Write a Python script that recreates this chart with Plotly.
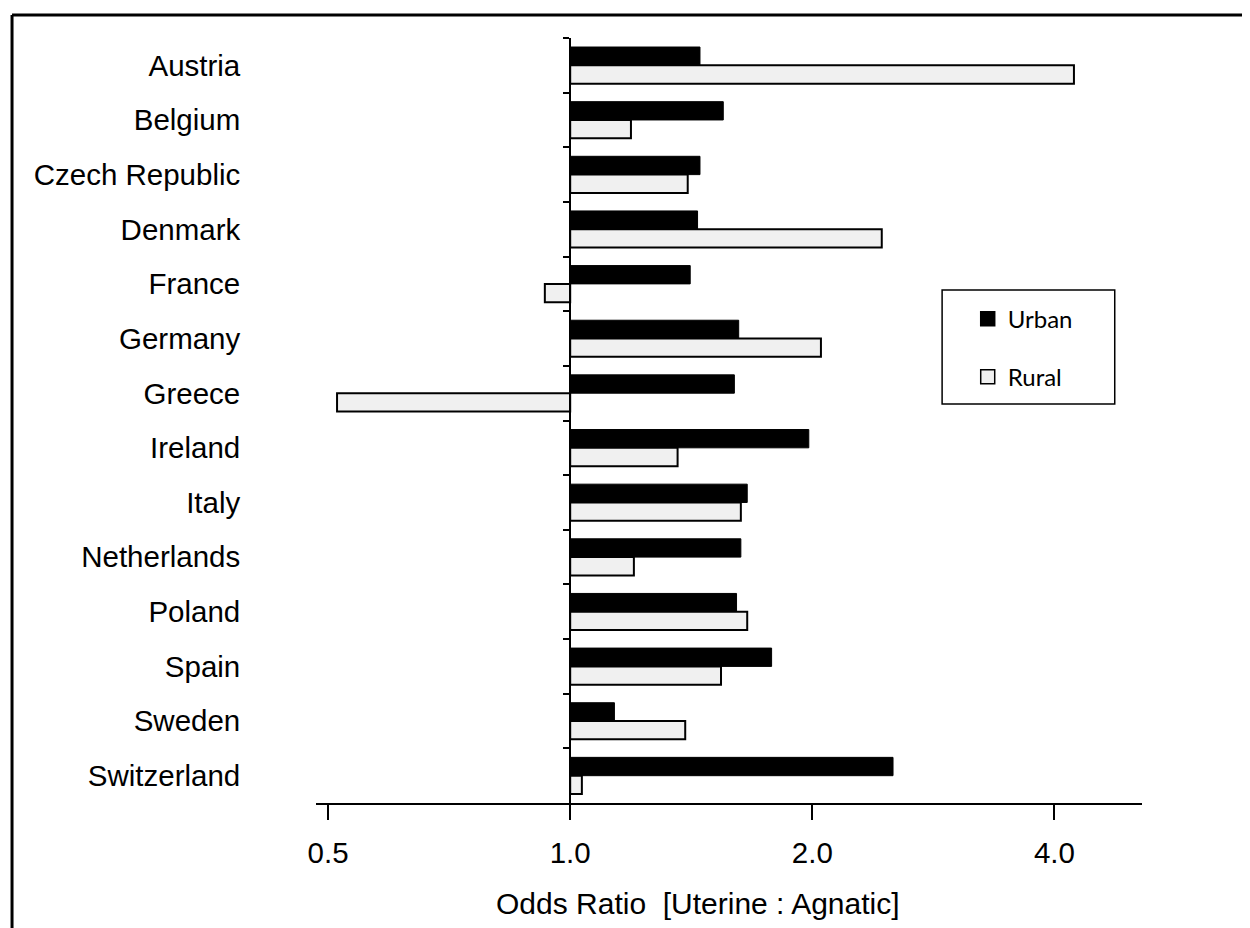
import math
import plotly.graph_objects as go

countries = ["Austria", "Belgium", "Czech Republic", "Denmark", "France", "Germany",
             "Greece", "Ireland", "Italy", "Netherlands", "Poland", "Spain", "Sweden",
             "Switzerland"]
urban = [1.45, 1.55, 1.45, 1.44, 1.41, 1.62, 1.60, 1.98, 1.66, 1.63, 1.61, 1.78, 1.135, 2.52]
rural = [4.23, 1.19, 1.40, 2.44, 0.93, 2.05, 0.513, 1.36, 1.63, 1.20, 1.66, 1.54, 1.39, 1.034]
series_names = ["Urban", "Rural"]
series_colors = ["black", "#f0f0f0"]
x_tickvals = [0.5, 1.0, 2.0, 4.0]
x_ticktext = ["0.5", "1.0", "2.0", "4.0"]
x_min, x_max = 0.483, 5.14
ref_value = 1.0

axis_font = dict(family="Liberation Sans, Arial, sans-serif", size=29.5, color="black")

fig = go.Figure()
for name, vals, col, lw in [(series_names[0], urban, series_colors[0], 1),
                            (series_names[1], rural, series_colors[1], 2)]:
    fig.add_trace(go.Bar(
        y=countries, x=[v - ref_value for v in vals], base=ref_value, orientation="h",
        name=name, showlegend=False,
        marker=dict(color=col, line=dict(color="black", width=lw)),
        hovertext=[f"{v:.2f}" for v in vals], hoverinfo="y+text",
    ))
# legend entries (square swatches)
for name, col in zip(series_names, series_colors):
    fig.add_trace(go.Scatter(
        x=[None], y=[None], mode="markers", name=name, legendgroup=name,
        marker=dict(symbol="square", size=14, color=col, line=dict(color="black", width=1.5)),
        hoverinfo="skip",
    ))

lo, hi = math.log10(x_min), math.log10(x_max)
ypos = (math.log10(ref_value) - lo) / (hi - lo)

fig.update_layout(
    width=1242, height=920,
    margin=dict(l=308, r=108, t=30, b=125),
    paper_bgcolor="white", plot_bgcolor="white",
    barmode="group", bargap=0.33, bargroupgap=0,
    font=axis_font,
    xaxis=dict(
        type="log", range=[lo, hi], tickvals=x_tickvals, ticktext=x_ticktext,
        showline=True, linecolor="black", linewidth=2,
        ticks="outside", ticklen=15, tickwidth=2, tickcolor="black",
        ticklabelstandoff=8,
        showgrid=False, zeroline=False, tickfont=axis_font, automargin=False,
    ),
    yaxis=dict(
        type="category", categoryorder="array", categoryarray=countries,
        range=[len(countries) - 0.5, -0.5],
        anchor="free", position=ypos,
        showline=True, linecolor="black", linewidth=2,
        ticks="outside", tickson="boundaries", ticklen=6, tickwidth=2, tickcolor="black",
        ticklabelstandoff=323,
        showgrid=False, zeroline=False, tickfont=axis_font, automargin=False,
    ),
    showlegend=True,
    legend=dict(
        x=0.789, y=0.662, xanchor="left", yanchor="top",
        bgcolor="rgba(0,0,0,0)", borderwidth=0,
        traceorder="grouped", tracegroupgap=24, itemsizing="trace",
        font=dict(family="Lato, Open Sans, sans-serif", size=24, color="black"),
    ),
    annotations=[dict(
        text="Odds Ratio\u00a0 [Uterine : Agnatic]", xref="paper", yref="paper",
        x=0.463, y=-0.131, xanchor="center", yanchor="middle", showarrow=False,
        font=dict(family="Liberation Sans, Arial, sans-serif", size=30, color="black"),
    )],
    shapes=[
        dict(type="rect", xref="paper", yref="paper", x0=0.758, x1=0.967, y0=0.5216, y1=0.6706,
             line=dict(color="black", width=1.5), fillcolor="rgba(0,0,0,0)"),
        dict(type="line", xref="paper", yref="paper", x0=-0.368, x1=1.3, y0=1.030, y1=1.030,
             line=dict(color="black", width=3)),
        dict(type="line", xref="paper", yref="paper", x0=-0.368, x1=-0.368, y0=1.030, y1=-0.3,
             line=dict(color="black", width=3)),
    ],
)

fig.write_html("out.html")
